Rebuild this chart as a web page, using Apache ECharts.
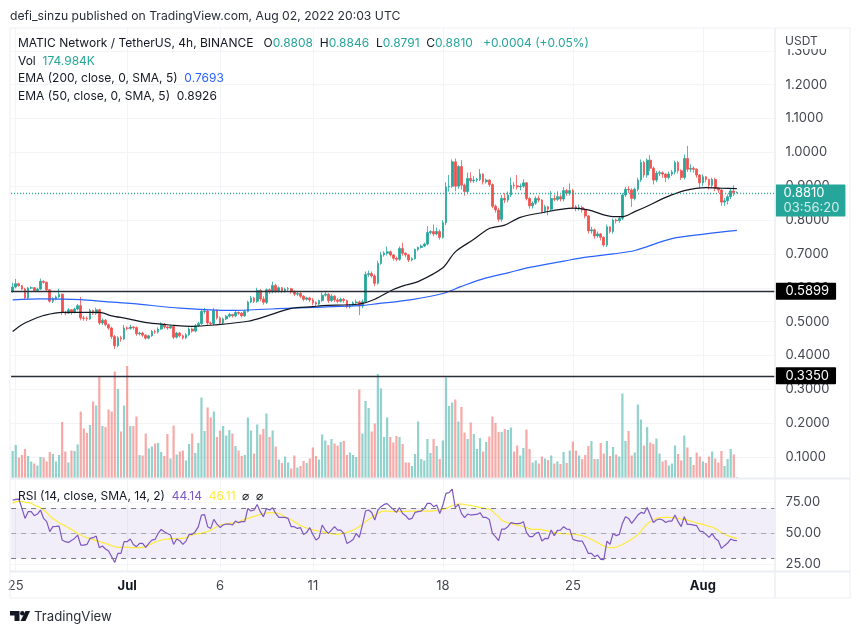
<!DOCTYPE html>
<html>
<head>
<meta charset="utf-8">
<style>html,body{margin:0;padding:0;background:#fff}#chart{width:860px;height:634px}</style>
<script src="https://cdn.jsdelivr.net/npm/echarts@6/dist/echarts.min.js"></script>
</head>
<body>
<div id="chart"></div>
<script>
// 4h candles, MATIC/USDT
let opens = [
.589,.602,.612,.606,.596,.570,.599,.600,.592,.596,
.619,.616,.594,.560,.567,.573,.581,.527,.525,.535,
.527,.537,.547,.511,.509,.508,.533,.525,.535,.496,
.504,.491,.481,.456,.429,.452,.449,.481,.480,.484,
.482,.464,.466,.460,.451,.458,.471,.469,.478,.492,
.484,.481,.486,.454,.466,.458,.452,.461,.478,.472,
.488,.494,.530,.531,.496,.494,.532,.511,.496,.508,
.516,.521,.517,.527,.525,.517,.530,.558,.570,.560,
.592,.567,.557,.594,.588,.607,.589,.600,.589,.596,
.597,.588,.581,.583,.575,.566,.570,.564,.556,.552,
.562,.578,.581,.562,.575,.564,.560,.566,.562,.544,
.548,.556,.558,.546,.559,.639,.642,.635,.613,.672,
.697,.702,.706,.697,.687,.684,.716,.702,.697,.682,
.686,.713,.719,.723,.729,.763,.766,.759,.766,.749,
.792,.898,.900,.972,.900,.958,.903,.884,.923,.916,
.918,.920,.936,.913,.918,.905,.841,.830,.802,.864,
.859,.874,.903,.901,.898,.900,.910,.864,.842,.850,
.864,.859,.825,.839,.832,.864,.861,.869,.862,.887,
.879,.887,.839,.834,.837,.830,.812,.768,.771,.753,
.759,.749,.726,.780,.766,.800,.798,.805,.874,.891,
.889,.864,.891,.918,.970,.933,.977,.953,.918,.938,
.940,.936,.926,.936,.942,.970,.946,.926,.982,.950,
.953,.950,.933,.910,.928,.920,.903,.920,.893,.889,
.853,.857,.869,.886,.8808]
let closes = [
.602,.612,.606,.596,.570,.599,.600,.592,.596,.619,
.616,.594,.560,.567,.573,.581,.527,.525,.535,.527,
.537,.547,.511,.509,.508,.533,.525,.535,.496,.504,
.491,.481,.456,.429,.452,.449,.481,.480,.484,.482,
.464,.466,.460,.451,.458,.471,.469,.478,.492,.484,
.481,.486,.454,.466,.458,.452,.461,.478,.472,.488,
.494,.530,.531,.496,.494,.532,.511,.496,.508,.516,
.521,.517,.527,.525,.517,.530,.558,.570,.560,.592,
.567,.557,.594,.588,.607,.589,.600,.589,.596,.597,
.588,.581,.583,.575,.566,.570,.564,.556,.552,.562,
.578,.581,.562,.575,.564,.560,.566,.562,.544,.548,
.556,.558,.546,.559,.639,.642,.635,.613,.672,.697,
.702,.706,.697,.687,.684,.716,.702,.697,.682,.686,
.713,.719,.723,.729,.763,.766,.759,.766,.749,.792,
.898,.900,.972,.900,.958,.903,.884,.923,.916,.918,
.920,.936,.913,.918,.905,.841,.830,.802,.864,.859,
.874,.903,.901,.898,.900,.910,.864,.842,.850,.864,
.859,.825,.839,.832,.864,.861,.869,.862,.887,.879,
.887,.839,.834,.837,.830,.812,.768,.771,.753,.759,
.749,.726,.780,.766,.800,.798,.805,.874,.891,.889,
.864,.891,.918,.970,.933,.977,.953,.918,.938,.940,
.936,.926,.936,.942,.970,.946,.926,.982,.950,.953,
.950,.933,.910,.928,.920,.903,.920,.893,.889,.853,
.857,.869,.886,.8808,.8810]
let highs = [
.615,.626,.615,.608,.600,.603,.604,.602,.600,.627,
.622,.618,.596,.572,.577,.597,.583,.532,.540,.537,
.541,.552,.573,.517,.515,.538,.535,.541,.538,.509,
.508,.494,.485,.460,.457,.458,.490,.486,.491,.487,
.486,.470,.470,.463,.461,.475,.476,.483,.498,.496,
.488,.490,.490,.470,.469,.462,.466,.483,.482,.493,
.499,.536,.540,.535,.500,.540,.536,.515,.512,.520,
.526,.523,.531,.530,.528,.535,.562,.576,.573,.600,
.596,.575,.598,.598,.618,.612,.604,.602,.600,.602,
.600,.592,.588,.587,.578,.573,.573,.570,.560,.565,
.586,.590,.584,.581,.578,.570,.571,.570,.565,.552,
.560,.565,.562,.565,.648,.651,.648,.640,.680,.706,
.708,.722,.710,.700,.692,.722,.733,.705,.700,.690,
.716,.722,.728,.733,.782,.770,.787,.778,.772,.800,
.912,.933,.979,.982,.962,.977,.908,.940,.941,.930,
.925,.951,.938,.923,.921,.908,.846,.836,.874,.880,
.884,.926,.912,.933,.908,.920,.912,.868,.855,.870,
.872,.862,.845,.842,.886,.875,.885,.875,.897,.892,
.908,.892,.844,.846,.842,.834,.815,.780,.775,.766,
.762,.752,.786,.782,.804,.804,.812,.880,.898,.900,
.894,.896,.925,.979,.975,.982,.992,.958,.945,.946,
.944,.938,.943,.948,.976,.975,.950,.994,1.019,.965,
.958,.953,.935,.935,.930,.922,.925,.925,.896,.892,
.865,.875,.892,.903,.8846]
let lows = [
.585,.598,.603,.593,.566,.566,.596,.589,.590,.594,
.612,.590,.556,.555,.563,.570,.520,.519,.522,.520,
.524,.533,.504,.503,.502,.505,.520,.520,.490,.490,
.486,.476,.449,.419,.424,.440,.445,.474,.476,.476,
.458,.459,.455,.447,.448,.455,.464,.465,.475,.479,
.476,.478,.448,.450,.453,.447,.448,.458,.467,.468,
.485,.490,.523,.490,.488,.489,.506,.490,.492,.504,
.512,.512,.513,.520,.512,.514,.527,.555,.555,.555,
.560,.550,.552,.582,.584,.584,.585,.584,.585,.591,
.582,.575,.576,.570,.560,.562,.558,.548,.546,.548,
.558,.574,.555,.558,.558,.554,.556,.556,.539,.539,
.546,.552,.519,.540,.556,.632,.630,.605,.610,.668,
.692,.695,.692,.680,.678,.680,.695,.690,.676,.678,
.683,.708,.716,.720,.725,.758,.752,.755,.742,.745,
.785,.884,.895,.885,.892,.890,.872,.878,.910,.910,
.912,.915,.905,.908,.898,.835,.822,.795,.795,.850,
.852,.868,.892,.890,.888,.895,.858,.834,.834,.845,
.852,.820,.820,.814,.825,.855,.856,.855,.855,.872,
.872,.832,.826,.828,.822,.805,.760,.760,.745,.748,
.740,.721,.720,.760,.760,.790,.792,.800,.868,.880,
.839,.858,.885,.912,.925,.925,.945,.905,.912,.930,
.925,.912,.920,.930,.935,.938,.918,.920,.942,.942,
.940,.925,.895,.900,.912,.890,.895,.885,.880,.842,
.842,.846,.862,.871,.8791]

// volume in millions
let volumes = [
5.4,6.6,4.1,4.6,5.8,4.4,3.3,2.9,2.5,4.2,
4.1,3.3,5.2,4.8,3.3,4.6,11.2,5.3,3.1,5.5,
5.4,6.7,13.3,9.9,9.0,10.6,15.3,14.5,20.3,10.4,
10.2,13.7,13.3,21.3,17.8,9.3,14.5,22.4,10.4,10.4,
12.3,4.6,4.5,8.9,5.9,6.3,6.9,7.0,5.2,4.4,
8.8,3.9,10.5,4.7,5.3,5.5,3.5,6.8,8.9,5.0,
7.0,16.1,9.4,14.1,12.1,13.3,8.2,9.5,10.4,8.5,
9.6,8.9,6.4,5.5,4.4,4.6,12.1,9.5,4.9,10.7,
8.7,9.8,12.9,8.2,9.5,6.3,3.7,3.0,4.3,3.1,
1.9,4.5,2.1,2.4,3.4,3.0,3.9,6.1,4.4,3.7,
8.7,7.5,6.6,7.8,6.9,6.5,7.2,7.4,4.6,5.1,
4.6,4.2,17.7,8.9,15.4,14.0,9.3,10.9,20.8,17.9,
8.2,12.1,8.2,7.1,8.4,8.2,6.8,3.1,3.1,2.4,
4.8,11.3,3.8,3.5,7.8,5.0,7.8,6.4,3.8,7.5,
20.1,14.4,15.1,15.7,11.3,14.2,9.1,7.8,11.1,8.8,
5.8,8.0,5.3,7.2,8.3,12.3,11.0,9.2,9.2,9.8,
9.6,10.1,5.3,6.5,4.5,6.0,9.7,5.8,3.1,3.5,
2.9,4.3,3.9,3.6,4.5,2.9,3.3,2.8,5.2,3.0,
5.5,7.3,5.5,4.5,3.8,4.6,6.4,7.4,3.8,3.8,
7.0,4.9,7.4,4.4,6.2,4.7,4.3,16.9,7.4,9.4,
4.5,5.1,14.7,11.7,6.5,10.2,7.1,6.8,7.9,4.9,
3.3,3.6,2.5,2.9,6.5,4.8,3.5,8.5,6.1,4.2,
2.6,5.1,4.3,3.3,3.0,4.3,5.3,3.9,3.1,5.4,
2.4,3.8,5.8,4.7,0.175]

let rsiValues = [
76.6,77.1,77.4,69.9,61.9,67.3,67.3,64.1,65.4,68.6,
61.9,59.3,51.3,55.3,55.5,55.8,44.6,43.3,42.7,44.3,
45.9,48.6,40.6,40.6,41.1,45.9,46.5,47.8,38.5,39.8,
37.4,35.8,31.3,26.7,33.9,33.9,43.3,43.3,45.4,41.1,
39.3,41.9,41.9,38.7,41.9,44.6,45.1,49.9,53.1,51.3,
49.9,48.6,41.1,45.4,44.1,41.1,43.8,49.1,49.1,51.3,
55.3,64.6,64.9,55.3,53.9,61.1,57.4,54.7,56.6,57.4,
57.4,56.6,59.8,58.5,59.3,59.3,69.9,67.8,68.6,73.1,
67.3,63.3,69.9,68.6,70.5,65.9,62.7,62.7,62.7,61.9,
55.3,55.3,53.9,54.5,49.1,50.7,54.5,49.1,44.6,46.5,
56.6,52.6,49.9,52.6,55.3,52.6,52.6,49.9,41.9,43.3,
45.1,49.9,46.7,56.6,67.8,68.6,66.7,60.6,68.6,71.3,
73.1,73.7,71.3,69.1,66.7,70.5,65.9,64.1,61.1,61.9,
66.7,67.3,67.8,69.9,73.9,73.9,71.3,72.6,65.9,72.6,
81.9,82.5,85.4,70.5,73.1,65.9,62.5,65.4,64.6,64.9,
65.1,66.5,62.7,62.7,61.1,49.9,47.3,44.1,53.4,53.4,
55.3,58.5,57.9,57.7,57.9,59.3,50.7,47.3,47.3,49.9,
50.7,43.8,45.9,45.7,52.6,48.1,52.3,52.6,55.3,53.4,
53.1,45.1,44.3,43.8,43.8,39.3,33.9,33.9,31.3,32.6,
29.1,28.9,43.8,41.1,49.9,48.1,49.1,57.9,63.3,61.9,
57.9,61.1,64.6,66.7,65.9,70.7,64.6,58.7,60.6,61.4,
60.6,58.7,59.8,59.8,64.6,59.3,55.3,63.3,57.1,57.1,
56.6,56.1,51.8,51.3,49.1,46.7,49.7,45.9,44.1,37.9,
40.1,42.2,45.4,44.3,44.14]
let rsiMaValues = [
73.9,75.3,75.8,75.5,75.0,74.5,73.9,72.6,71.5,70.5,
68.6,66.5,64.1,61.9,60.1,58.5,57.1,55.8,54.5,53.1,
51.5,49.9,48.6,47.5,46.5,45.7,44.9,44.1,43.5,42.7,
41.9,41.1,40.1,39.3,38.7,38.7,39.0,39.0,38.7,38.5,
38.5,38.5,38.7,39.5,40.6,41.7,42.7,43.8,44.6,45.1,
45.4,45.7,45.7,45.7,45.9,45.9,46.5,47.5,48.6,49.4,
49.7,49.9,50.7,51.5,52.6,53.9,55.5,56.6,57.1,57.7,
57.9,58.2,58.5,59.0,60.3,61.1,61.9,62.7,63.5,64.3,
65.1,65.7,66.2,66.5,66.5,66.2,65.7,64.6,63.3,61.9,
60.9,59.3,57.7,56.3,55.0,54.2,53.4,52.9,52.3,51.8,
51.3,50.7,50.2,49.7,49.4,49.4,49.7,49.9,50.7,51.5,
52.6,53.9,55.5,57.4,59.3,61.1,62.7,64.6,65.9,67.3,
67.8,67.8,67.5,67.3,67.3,67.3,67.3,67.5,67.5,67.8,
67.8,67.8,68.1,67.8,67.8,67.8,68.1,68.3,68.6,69.1,
69.9,71.0,72.1,72.9,73.4,73.4,73.1,72.6,72.3,71.8,
71.3,70.7,70.2,69.7,69.4,67.8,65.1,63.3,60.6,59.3,
58.5,57.7,57.1,56.6,56.1,55.3,54.5,53.7,53.1,53.1,
53.1,52.9,52.3,51.8,51.3,50.7,50.2,49.9,49.7,49.7,
49.4,49.4,49.1,48.6,48.1,47.3,46.2,45.1,43.8,42.5,
41.1,39.8,39.0,38.5,38.5,39.0,39.8,41.1,42.5,43.8,
45.4,47.0,49.1,51.8,55.0,57.4,59.3,60.6,61.9,62.5,
62.5,62.7,62.7,62.5,62.2,61.9,61.4,60.9,60.6,59.8,
59.0,58.2,57.7,57.1,56.3,55.5,55.0,53.7,52.3,50.7,
49.4,48.1,47.3,46.5,46.11]

// moving averages read at these candle slots
let ema200Slots = [0,9,22,30,39,54,71,90,100,112,118,129,139,145,153,160,167,180,186,194,201,213,224,234]
let ema200Values = [.564,.567,.565,.559,.553,.540,.533,.540,.543,.547,.553,.565,.583,.604,.629,.644,.660,.682,.691,.700,.710,.745,.759,.7693]
let ema50Slots = [0,3,7,10,16,22,28,32,37,44,51,58,65,76,82,90,97,100,112,117,123,127,131,139,143,149,154,159,164,170,181,186,194,197,201,205,211,217,224,229,234]
let ema50Values = [.471,.491,.508,.518,.527,.527,.527,.517,.509,.496,.490,.486,.490,.501,.516,.539,.544,.547,.552,.566,.595,.608,.618,.659,.706,.743,.775,.785,.808,.820,.835,.830,.810,.810,.825,.841,.867,.887,.896,.894,.8926]

let tickLabels = ['25', 'Jul', '6', '11', '18', '25', 'Aug']
let tickSlots = [1, 37, 67, 97, 139, 181, 223]
let boldTicks = ['Jul', 'Aug']
let levels = [0.5899, 0.3350]
let lastPrice = 0.8810
let countdown = '03:56:20'

// 247 slots fit the plot width, the last ones stay empty on the right
let categories = []
for (let i = 0; i < 247; i++) {
  let t = tickSlots.indexOf(i)
  categories.push(t >= 0 ? tickLabels[t] : '')
}

const UP = '#26a69a'
const DOWN = '#ef5350'
const FONT = 'Inter, "Liberation Sans", sans-serif'
const INK = '#434651'
const FRAME = '#eceef3'
const GRIDLINE = '#f3f4f8'

function isTick(i) {
  return tickSlots.indexOf(i) >= 0
}

let candles = opens.map((o, i) => [o, closes[i], lows[i], highs[i]])
let volumeBars = volumes.map((v, i) => ({
  value: v,
  itemStyle: { color: closes[i] >= opens[i] ? 'rgba(38,166,154,0.5)' : 'rgba(239,83,80,0.5)' }
}))

function pairs(slots, values) {
  return slots.map((s, i) => [s, values[i]])
}

function hiddenX(gridIndex) {
  return { type: 'category', gridIndex, data: categories, show: false, boundaryGap: true }
}

function textEl(x, y, text, rich, extra) {
  return {
    type: 'text', x, y, z: 100,
    style: Object.assign({ text, rich, font: '12px ' + FONT, fill: '#131722', verticalAlign: 'middle' }, extra || {})
  }
}

function levelLine(v) {
  return {
    yAxis: v,
    lineStyle: { color: '#2a2e39', type: 'solid', width: 1.4 },
    label: {
      show: true, position: 'end', distance: 0,
      formatter: v.toFixed(4), color: '#fff', backgroundColor: '#000',
      padding: [2, 7, 2, 10], fontSize: 13, fontFamily: FONT, borderRadius: 1
    }
  }
}

let headerRich = {
  k: { fill: '#131722', font: '12px ' + FONT },
  g: { fill: UP, font: '12px ' + FONT },
  b: { fill: '#2962ff', font: '12px ' + FONT },
  d: { fill: '#131722', font: '12px ' + FONT }
}

let option = {
  animation: false,
  backgroundColor: '#fff',
  grid: [
    { left: 11.1, right: 84.4, top: 28, bottom: 63 },
    { left: 11.1, right: 84.4, top: 16.95, bottom: 143.15 },
    { left: 11.1, right: 84.4, top: 28, bottom: 156 },
    { left: 11.1, right: 84.4, top: 470.8, bottom: 38.2 }
  ],
  xAxis: [
    {
      type: 'category', gridIndex: 0, data: categories, boundaryGap: true,
      axisLine: { show: false }, axisTick: { show: false },
      axisLabel: {
        interval: (i) => isTick(i), margin: 9, fontFamily: FONT, fontSize: 13, color: INK,
        formatter: (v) => boldTicks.indexOf(v) >= 0 ? '{b|' + v + '}' : v,
        rich: { b: { fontWeight: 'bold', fontFamily: FONT, fontSize: 13, color: '#131722' } }
      },
      splitLine: { show: true, alignWithLabel: true, interval: (i) => isTick(i), lineStyle: { color: GRIDLINE } }
    },
    hiddenX(1), hiddenX(2), hiddenX(3)
  ],
  yAxis: [
    { type: 'value', gridIndex: 0, show: false },
    {
      type: 'value', gridIndex: 1, position: 'right', min: 0, max: 1.4, interval: 0.1,
      axisLine: { show: false }, axisTick: { show: false },
      axisLabel: {
        margin: 10, fontFamily: FONT, fontSize: 13, color: INK,
        showMinLabel: false, showMaxLabel: false, formatter: (v) => v.toFixed(4)
      },
      splitLine: { show: true, showMinLine: false, showMaxLine: false, lineStyle: { color: GRIDLINE } }
    },
    { type: 'value', gridIndex: 2, show: false, min: 0, max: 90 },
    {
      type: 'value', gridIndex: 3, position: 'right', min: 0, max: 100, interval: 25,
      axisLine: { show: false }, axisTick: { show: false },
      axisLabel: {
        margin: 10, fontFamily: FONT, fontSize: 13, color: INK,
        showMinLabel: false, showMaxLabel: false, formatter: (v) => v.toFixed(2)
      },
      splitLine: { show: true, showMinLine: false, showMaxLine: false, lineStyle: { color: GRIDLINE } }
    }
  ],
  series: [
    {
      type: 'bar', name: 'Vol', xAxisIndex: 2, yAxisIndex: 2, data: volumeBars, barWidth: 2.2
    },
    {
      type: 'candlestick', name: 'MATIC', xAxisIndex: 1, yAxisIndex: 1, data: candles, barWidth: 2.2,
      itemStyle: { color: UP, color0: DOWN, borderColor: UP, borderColor0: DOWN, borderWidth: 0.8 },
      markLine: {
        silent: true, symbol: 'none', animation: false,
        data: [levelLine(levels[0]), levelLine(levels[1])]
      }
    },
    {
      type: 'line', name: 'EMA 200', xAxisIndex: 1, yAxisIndex: 1, data: pairs(ema200Slots, ema200Values),
      showSymbol: false, smooth: 0.3, lineStyle: { color: '#2962ff', width: 1.2 }, z: 3,
      markLine: {
        silent: true, symbol: 'none', animation: false,
        lineStyle: { color: UP, type: [1, 2], width: 1.4 },
        data: [{
          yAxis: lastPrice,
          label: {
            show: true, position: 'end', distance: 0, offset: [0, 7.5],
            formatter: '{p|' + lastPrice.toFixed(4) + '}\n{t|' + countdown + '}',
            backgroundColor: UP, padding: [1, 6, 1, 8], borderRadius: 1,
            rich: {
              p: { color: '#fff', fontSize: 13, fontFamily: FONT, lineHeight: 15 },
              t: { color: 'rgba(255,255,255,0.8)', fontSize: 13, fontFamily: FONT, lineHeight: 15 }
            }
          }
        }]
      }
    },
    {
      type: 'line', name: 'EMA 50', xAxisIndex: 1, yAxisIndex: 1, data: pairs(ema50Slots, ema50Values),
      showSymbol: false, smooth: 0.3, lineStyle: { color: '#131722', width: 1.2 }, z: 3
    },
    {
      type: 'line', name: 'RSI', xAxisIndex: 3, yAxisIndex: 3, data: rsiValues,
      showSymbol: false, lineStyle: { color: '#7e57c2', width: 1.2 }, z: 4,
      markArea: {
        silent: true, itemStyle: { color: 'rgba(126,87,194,0.1)' },
        data: [[{ yAxis: 70 }, { yAxis: 30 }]]
      },
      markLine: {
        silent: true, symbol: 'none', label: { show: false },
        lineStyle: { color: '#787b86', type: [5, 5], width: 1 },
        data: [{ yAxis: 70 }, { yAxis: 50, lineStyle: { opacity: 0.6 } }, { yAxis: 30 }]
      }
    },
    {
      type: 'line', name: 'RSI MA', xAxisIndex: 3, yAxisIndex: 3, data: rsiMaValues,
      showSymbol: false, smooth: true, lineStyle: { color: '#ffeb3b', width: 1.2 }, z: 3
    }
  ],
  graphic: [
    // chart frame and pane separators
    { type: 'rect', z: 90, shape: { x: 10, y: 28, width: 840, height: 570 }, style: { fill: 'none', stroke: FRAME, lineWidth: 1 } },
    { type: 'line', z: 90, shape: { x1: 775, y1: 28, x2: 775, y2: 598 }, style: { stroke: FRAME, lineWidth: 1.5 } },
    { type: 'line', z: 90, shape: { x1: 10, y1: 478.5, x2: 850, y2: 478.5 }, style: { stroke: FRAME, lineWidth: 2 } },
    { type: 'line', z: 90, shape: { x1: 10, y1: 571.5, x2: 850, y2: 571.5 }, style: { stroke: FRAME, lineWidth: 2 } },
    // USDT box hides the top of the 1.3000 label
    { type: 'rect', z: 95, shape: { x: 776, y: 29, width: 73, height: 20 }, style: { fill: '#fff' } },
    textEl(785, 41, 'USDT', null, { font: '12px ' + FONT, fill: INK }),
    textEl(10, 16, 'defi_sinzu published on TradingView.com, Aug 02, 2022 20:03 UTC', null, { font: '12.2px ' + FONT, fill: '#2a2e39' }),
    textEl(18, 43, '{k|MATIC Network / TetherUS, 4h, BINANCE   O}{g|0.8808}{k|  H}{g|0.8846}{k|  L}{g|0.8791}{k|  C}{g|0.8810}{k|   }{g|+0.0004 (+0.05%)}', headerRich),
    textEl(18, 61, '{k|Vol  }{g|174.984K}', headerRich),
    textEl(18, 78, '{k|EMA (200, close, 0, SMA, 5)  }{b|0.7693}', headerRich),
    textEl(18, 96, '{k|EMA (50, close, 0, SMA, 5)  }{d|0.8926}', headerRich),
    textEl(18, 496, '{k|RSI (14, close, SMA, 14, 2)  }{v|44.14}{k|  }{y|46.11}{k|  ⌀  ⌀}', {
      k: { fill: '#131722', font: '12px ' + FONT },
      v: { fill: '#7e57c2', font: '12px ' + FONT },
      y: { fill: '#ffeb3b', font: '12px ' + FONT }
    }),
    // TradingView mark
    { type: 'polygon', z: 100, shape: { points: [[10, 611], [19.5, 611], [19.5, 621], [14.5, 621], [14.5, 615.5], [10, 615.5]] }, style: { fill: '#131722' } },
    { type: 'circle', z: 100, shape: { cx: 22.3, cy: 613.2, r: 2.2 }, style: { fill: '#131722' } },
    { type: 'polygon', z: 100, shape: { points: [[25.5, 611], [30, 611], [25.5, 621], [20.5, 621]] }, style: { fill: '#131722' } },
    textEl(34, 617, 'TradingView', null, { font: '13.2px ' + FONT, fill: '#2a2e39' })
  ]
}

let chart = echarts.init(document.getElementById('chart'))
chart.setOption(option)
</script>
</body>
</html>
